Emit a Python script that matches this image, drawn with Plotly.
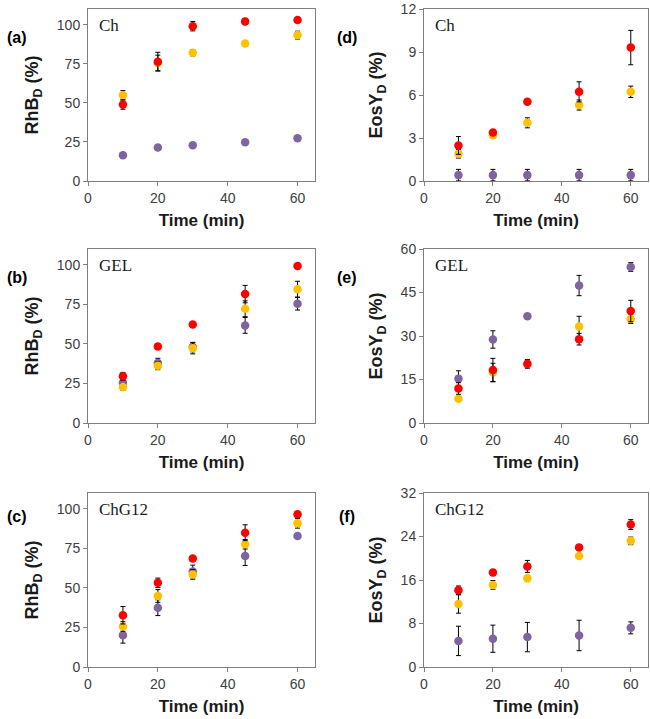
import plotly.graph_objects as go

# ---------------- data ----------------
time = [10, 20, 30, 45, 60]

# (a) RhB_D, Ch
a_red = [48.9, 76.3, 99.0, 102.0, 103.0]
a_red_err = [3.0, 6.0, 3.0, 2.0, 1.0]
a_yel = [54.8, 75.5, 82.0, 88.0, 93.3]
a_yel_err = [3.0, 5.0, 2.0, 1.0, 2.5]
a_pur = [16.4, 21.4, 22.9, 24.8, 27.3]
a_pur_err = [0.8, 0.8, 0.8, 0.8, 0.8]

# (b) RhB_D, GEL
b_red = [29.5, 48.4, 62.3, 81.5, 99.2]
b_red_err = [2.5, 1.0, 1.0, 5.5, 1.0]
b_yel = [22.7, 36.2, 47.2, 72.2, 84.6]
b_yel_err = [2.0, 2.5, 3.5, 5.0, 5.0]
b_pur = [25.5, 37.9, 48.0, 61.7, 75.4]
b_pur_err = [1.5, 3.0, 3.0, 5.0, 4.0]

# (c) RhB_D, ChG12
c_red = [32.7, 53.2, 68.6, 84.9, 96.6]
c_red_err = [5.5, 3.0, 1.0, 5.0, 1.0]
c_yel = [25.6, 44.9, 58.5, 77.6, 90.8]
c_yel_err = [3.0, 4.0, 3.0, 3.0, 3.0]
c_pur = [20.1, 37.5, 60.4, 70.2, 82.8]
c_pur_err = [5.0, 5.0, 4.0, 6.0, 1.0]

# (d) EosY_D, Ch
d_red = [2.48, 3.39, 5.53, 6.22, 9.31]
d_red_err = [0.62, 0.1, 0.1, 0.7, 1.2]
d_yel = [1.9, 3.19, 4.06, 5.3, 6.22]
d_yel_err = [0.3, 0.1, 0.35, 0.35, 0.4]
d_pur = [0.41, 0.41, 0.41, 0.41, 0.41]
d_pur_err = [0.4, 0.4, 0.4, 0.4, 0.4]

# (e) EosY_D, GEL
e_red = [11.9, 18.3, 20.4, 28.9, 38.6]
e_red_err = [2.0, 4.0, 1.5, 2.0, 3.7]
e_yel = [8.4, 17.4, 20.2, 33.3, 35.9]
e_yel_err = [0.5, 3.2, 1.0, 3.5, 1.6]
e_pur = [15.3, 28.8, 36.8, 47.4, 53.8]
e_pur_err = [2.7, 3.0, 0.5, 3.5, 1.5]

# (f) EosY_D, ChG12
f_red = [14.1, 17.4, 18.5, 22.0, 26.2]
f_red_err = [0.8, 0.5, 1.1, 0.4, 0.9]
f_yel = [11.6, 15.1, 16.3, 20.4, 23.2]
f_yel_err = [1.7, 0.8, 0.3, 0.3, 0.7]
f_pur = [4.8, 5.2, 5.5, 5.8, 7.2]
f_pur_err = [2.7, 2.5, 2.7, 2.8, 1.1]

x_ticks = [0, 20, 40, 60]
rhb_ticks = [0, 25, 50, 75, 100]
d_ticks = [0, 3, 6, 9, 12]
e_ticks = [0, 15, 30, 45, 60]
f_ticks = [0, 8, 16, 24, 32]

panels = [
    # key, letter, sample, series, yrange, yticks, ytitle
    ("a", "(a)", "Ch", (a_pur, a_pur_err, a_yel, a_yel_err, a_red, a_red_err), [0, 110], rhb_ticks, "RhB"),
    ("b", "(b)", "GEL", (b_pur, b_pur_err, b_yel, b_yel_err, b_red, b_red_err), [0, 110], rhb_ticks, "RhB"),
    ("c", "(c)", "ChG12", (c_pur, c_pur_err, c_yel, c_yel_err, c_red, c_red_err), [0, 110], rhb_ticks, "RhB"),
    ("d", "(d)", "Ch", (d_pur, d_pur_err, d_yel, d_yel_err, d_red, d_red_err), [0, 12], d_ticks, "EosY"),
    ("e", "(e)", "GEL", (e_pur, e_pur_err, e_yel, e_yel_err, e_red, e_red_err), [0, 60], e_ticks, "EosY"),
    ("f", "(f)", "ChG12", (f_pur, f_pur_err, f_yel, f_yel_err, f_red, f_red_err), [0, 32], f_ticks, "EosY"),
]

# ---------------- layout geometry ----------------
W, H = 650, 719
x_doms = {"L": [88 / W, 315 / W], "R": [424 / W, 648 / W]}
y_doms = [[1 - 181 / H, 1 - 9 / H], [1 - 423 / H, 1 - 249 / H], [1 - 667 / H, 1 - 493 / H]]

colors = {"pur": "#8064A2", "yel": "#FFC000", "red": "#FF0000"}
names = {"pur": "Series 3", "yel": "Series 2", "red": "Series 1"}

fig = go.Figure()
annotations = []
axis_color = "#7f7f7f"
tick_font = dict(family="Liberation Sans, Arial, sans-serif", size=14, color="#404040")
title_font = dict(family="Liberation Sans, Arial, sans-serif", size=17, color="#1a1a1a")
ytitle_font = dict(family="Liberation Sans, Arial, sans-serif", size=18, color="#1a1a1a")

for i, (key, letter, sample, series, yr, yt, ytitle) in enumerate(panels):
    n = i + 1
    col = "L" if i < 3 else "R"
    row = i % 3
    xa = "xaxis" if n == 1 else f"xaxis{n}"
    ya = "yaxis" if n == 1 else f"yaxis{n}"
    xref = "x" if n == 1 else f"x{n}"
    yref = "y" if n == 1 else f"y{n}"
    pur, pur_e, yel, yel_e, red, red_e = series
    for ck, vals, errs in (("pur", pur, pur_e), ("yel", yel, yel_e), ("red", red, red_e)):
        fig.add_trace(go.Scatter(
            x=time, y=vals, mode="markers", name=names[ck], showlegend=False,
            marker=dict(color=colors[ck], size=8.5, line=dict(width=0)),
            error_y=dict(type="data", array=errs, visible=True, color="#000000",
                         thickness=1, width=2.5),
            xaxis=xref, yaxis=yref,
        ))
    fig.layout[xa] = dict(
        domain=x_doms[col], anchor=yref, range=[0, 65], tickvals=x_ticks,
        showline=True, mirror=True, linecolor=axis_color, linewidth=1,
        ticks="outside", ticklen=4, tickcolor=axis_color, showgrid=False,
        zeroline=False, tickfont=tick_font, automargin=False,
        ticklabeloverflow="allow",
        title=dict(text="<b>Time (min)</b>", font=title_font, standoff=9),
    )
    fig.layout[ya] = dict(
        domain=y_doms[row], anchor=xref, range=yr, tickvals=yt,
        showline=True, mirror=True, linecolor=axis_color, linewidth=1,
        ticks="outside", ticklen=4, tickcolor=axis_color, showgrid=False,
        zeroline=False, tickfont=tick_font, automargin=False,
        ticklabeloverflow="allow",
        title=dict(text=f"<b>{ytitle}<sub>D</sub> (%)</b>", font=ytitle_font, standoff=13),
    )
    # panel letter
    lx = 17 if col == "L" else 347
    ly = [37, 278, 516][row]
    annotations.append(dict(
        text=f"<b>{letter}</b>", xref="paper", yref="paper",
        x=lx / W, y=1 - ly / H, xanchor="center", yanchor="middle", showarrow=False,
        font=dict(family="Liberation Sans, Arial, sans-serif", size=16, color="#000000"),
    ))
    # sample name inside plot
    annotations.append(dict(
        text=sample, xref=f"{xref} domain", yref=f"{yref} domain",
        x=0.04, y=0.97, xanchor="left", yanchor="top", showarrow=False,
        font=dict(family="Liberation Serif, Times New Roman, serif", size=17, color="#1a1a1a"),
    ))

fig.update_layout(
    width=W, height=H, margin=dict(l=0, r=0, t=0, b=0),
    paper_bgcolor="white", plot_bgcolor="white",
    annotations=annotations, showlegend=False,
)

# the page's default 8px body margin would push the 650x719 figure off-screen
fig.write_html("out.html", config={"displayModeBar": False},
               post_script="document.body.style.margin='0';")
